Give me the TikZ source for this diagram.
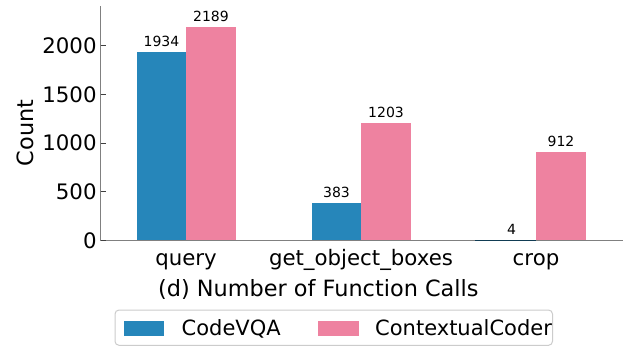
\documentclass[tikz,border=0pt]{standalone}
\usepackage{fontspec}
\setmainfont{DejaVu Sans}
\definecolor{cvqa}{RGB}{38,134,186}
\definecolor{ccoder}{RGB}{238,130,160}
\definecolor{spine}{RGB}{128,128,128}
\definecolor{legbord}{RGB}{204,204,204}
\begin{document}
\begin{tikzpicture}[x=1pt,y=-1pt,
  ticklab/.style={font=\fontsize{21.3}{21.3}\selectfont, inner sep=0pt},
  axlab/.style={font=\fontsize{22.4}{22.4}\selectfont, inner sep=0pt},
  vallab/.style={font=\fontsize{14}{14}\selectfont, inner sep=0pt, anchor=base},
  leglab/.style={font=\fontsize{21}{21}\selectfont, inner sep=0pt, anchor=base west},
  spineline/.style={draw=spine, line width=1.3pt},
  tickline/.style={draw=black!75, line width=1pt}]
\useasboundingbox (0,0) rectangle (623,346);
\fill[white] (0,0) rectangle (623,346);
% bars
\fill[cvqa] (137,240.5) rectangle (186,{240.5-0.0975*1934});
\fill[ccoder] (186,240.5) rectangle (236,{240.5-0.0975*2189});
\fill[cvqa] (312,240.5) rectangle (361,{240.5-0.0975*383});
\fill[ccoder] (361,240.5) rectangle (411,{240.5-0.0975*1203});
\fill[ccoder] (536,240.5) rectangle (586,{240.5-0.0975*912});
% value labels
\node[vallab] (v1) at (161.5,{240.5-0.0975*1934-5.5}) {1934};
\node[vallab] (v2) at (211,{240.5-0.0975*2189-5.5}) {2189};
\node[vallab] (v3) at (336.5,{240.5-0.0975*383-5.5}) {383};
\node[vallab] (v4) at (386,{240.5-0.0975*1203-5.5}) {1203};
\node[vallab] (v5) at (511.5,{240.5-0.0975*4-5.5}) {4};
\node[vallab] (v6) at (561,{240.5-0.0975*912-5.5}) {912};
% spines
\draw[spineline] (100.5,6) -- (100.5,240.5) -- (623,240.5);
\draw[draw=cvqa!45!black, line width=1.3pt] (475,240.5) -- (536,240.5);
% y ticks
\foreach \v/\n in {0/y0,500/y500,1000/y1000,1500/y1500,2000/y2000}{
  \draw[tickline] (100.5,{240.5-0.0975*\v}) -- (106,{240.5-0.0975*\v});
  \node[ticklab, anchor=east] (\n) at (96.8,{240.5-0.0975*\v}) {\v};
}
% x tick labels
\node[ticklab, anchor=base] (xq) at (186,265) {query};
\node[ticklab, anchor=base] (xg) at (361,265) {get\_object\_boxes};
\node[ticklab, anchor=base] (xc) at (536,265) {crop};
% axis labels
\node[axlab, rotate=90] (ylab) at (25,133) {Count};
\node[axlab, anchor=base] (xlab) at (318.3,296) {(d) Number of Function Calls};
% legend
\draw[draw=legbord, fill=white, rounded corners=4pt, line width=1pt] (115,310) rectangle (552.5,345.3);
\fill[cvqa] (124,321) rectangle (164.3,335.7);
\node[leglab] (l1) at (181.5,335) {CodeVQA};
\fill[ccoder] (318.3,321) rectangle (358.7,335.7);
\node[leglab] (l2) at (375,335) {ContextualCoder};
\end{tikzpicture}
\end{document}
